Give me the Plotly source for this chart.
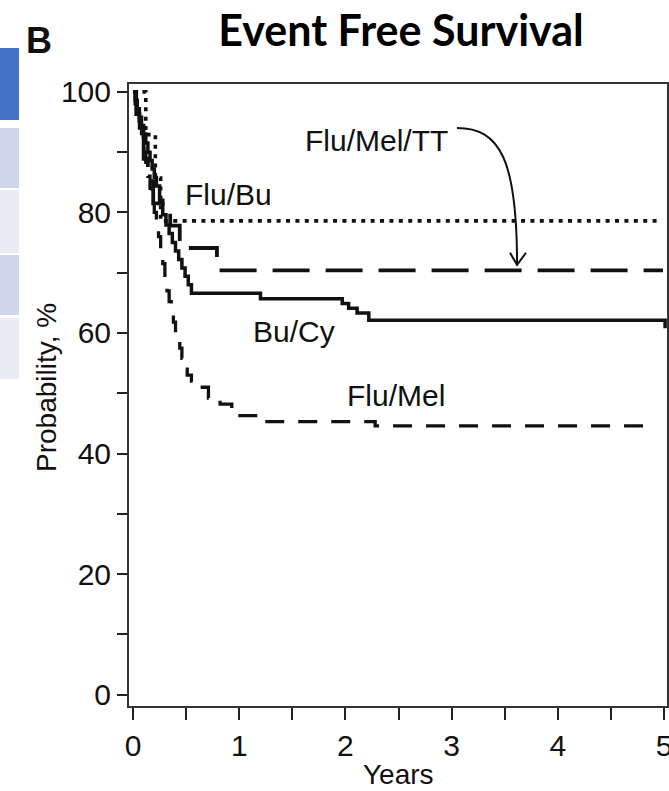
import plotly.graph_objects as go

# ---------------- data ----------------
years_flu_mel_tt = [0, 0.12, 0.21, 0.26, 4.96]
surv_flu_mel_tt = [100, 92.9, 85.7, 78.6, 78.6]

years_flu_bu = [0, 0.03, 0.06, 0.10, 0.14, 0.19, 0.35, 0.44, 0.79, 4.99]
surv_flu_bu = [100, 96.3, 92.6, 88.9, 85.2, 81.5, 77.8, 74.1, 70.4, 70.4]

years_bu_cy = [0, 0.02, 0.04, 0.06, 0.08, 0.10, 0.12, 0.14, 0.16, 0.18, 0.20,
               0.22, 0.25, 0.28, 0.31, 0.34, 0.37, 0.40, 0.43, 0.46, 0.49,
               0.52, 0.55, 1.20, 1.97, 2.03, 2.11, 2.22, 5.01]
surv_bu_cy = [100, 98.6, 97.2, 95.8, 94.4, 93.0, 91.5, 90.0, 88.6, 87.2, 85.8,
              84.4, 82.0, 79.6, 77.9, 76.5, 75.0, 73.6, 72.2, 70.8, 69.4,
              68.0, 66.6, 65.7, 64.9, 64.1, 63.3, 62.1, 60.8]

years_flu_mel = [0, 0.02, 0.04, 0.06, 0.08, 0.10, 0.12, 0.14, 0.16, 0.18, 0.20,
                 0.22, 0.24, 0.26, 0.28, 0.30, 0.32, 0.34, 0.36, 0.38, 0.40,
                 0.42, 0.44, 0.46, 0.48, 0.51, 0.55, 0.63, 0.71, 0.82, 0.93,
                 0.99, 1.21, 2.28, 4.87]
surv_flu_mel = [100, 98, 96, 94, 92, 90, 88, 86, 84, 82, 80,
                78, 76, 74, 71.5, 69, 67, 65.2, 63.5, 61.8, 60,
                58.7, 57.5, 55.8, 54, 53, 52, 51, 49.2, 48.2, 47.3,
                46.3, 45.3, 44.6, 44.6]

x_tick_vals = [0, 0.5, 1, 1.5, 2, 2.5, 3, 3.5, 4, 4.5, 5]
x_tick_text = ["0", "", "1", "", "2", "", "3", "", "4", "", "5"]
y_tick_vals = [0, 10, 20, 30, 40, 50, 60, 70, 80, 90, 100]
y_tick_text = ["0", "", "20", "", "40", "", "60", "", "80", "", "100"]

labels = ["Flu/Mel/TT", "Flu/Bu", "Bu/Cy", "Flu/Mel"]
label_x = [2.29, 0.90, 1.52, 2.48]
label_y = [92.0, 82.9, 60.3, 49.7]

# ---------------- figure ----------------
W, H = 669, 791
L, R, T, B = 129, 667, 84, 706
PW, PH = R - L, B - T


def pxx(x):
    return (x - L) / PW


def pxy(y):
    return (B - y) / PH


INK = "#111111"
FONT = "Liberation Sans, Arial, sans-serif"

fig = go.Figure()
fig.add_trace(go.Scatter(x=years_bu_cy, y=surv_bu_cy, mode="lines", line_shape="hv",
                         line=dict(color=INK, width=3.5), name="Bu/Cy"))
fig.add_trace(go.Scatter(x=years_flu_mel, y=surv_flu_mel, mode="lines", line_shape="hv",
                         line=dict(color=INK, width=3.3, dash="19px,14px"), name="Flu/Mel"))
fig.add_trace(go.Scatter(x=years_flu_bu, y=surv_flu_bu, mode="lines", line_shape="hv",
                         line=dict(color=INK, width=3.8, dash="37px,16px"), name="Flu/Bu"))
fig.add_trace(go.Scatter(x=years_flu_mel_tt, y=surv_flu_mel_tt, mode="lines", line_shape="hv",
                         line=dict(color=INK, width=3.6, dash="4px,5.4px"), name="Flu/Mel/TT"))

for t, x, y in zip(labels, label_x, label_y):
    fig.add_annotation(x=x, y=y, text=t, showarrow=False, xanchor="center", yanchor="middle",
                       font=dict(family=FONT, size=30, color=INK))

# curved arrow from the Flu/Mel/TT label down to the Flu/Bu curve
fig.add_shape(type="path", xref="x", yref="y",
              path="M 3.05,94.0 C 3.456,94.0 3.616,88.7 3.616,71.4",
              line=dict(color=INK, width=2))
fig.add_shape(type="path", xref="x", yref="y",
              path="M 3.55,73.3 L 3.616,71.3 L 3.70,73.3",
              line=dict(color=INK, width=2))

# panel letter
fig.add_annotation(xref="paper", yref="paper", x=pxx(39), y=pxy(41), text="<b>B</b>",
                   showarrow=False, xanchor="center", yanchor="middle",
                   font=dict(family=FONT, size=36, color=INK))

# axis titles
fig.add_annotation(xref="paper", yref="paper", x=pxx(398), y=pxy(774), text="Years",
                   showarrow=False, xanchor="center", yanchor="middle",
                   font=dict(family=FONT, size=28, color=INK))
fig.add_annotation(xref="paper", yref="paper", x=pxx(46), y=pxy(388), text="Probability, %",
                   showarrow=False, xanchor="center", yanchor="middle", textangle=-90,
                   font=dict(family=FONT, size=28, color=INK))

# left blue table fragments
rects = [(48, 120, "#4472C4"), (128, 188, "#CFD5EA"), (190, 253, "#E9EBF5"),
         (255, 315, "#CFD5EA"), (318, 379, "#E9EBF5")]
for y0, y1, c in rects:
    fig.add_shape(type="rect", xref="paper", yref="paper",
                  x0=pxx(0), x1=pxx(19), y0=pxy(y1), y1=pxy(y0),
                  line=dict(width=0), fillcolor=c, layer="below")

fig.update_layout(
    width=W, height=H,
    margin=dict(l=L, r=W - R, t=T, b=H - B, pad=0, autoexpand=False),
    paper_bgcolor="white", plot_bgcolor="white",
    showlegend=False,
    title=dict(text="Event Free Survival", x=401 / W, xref="container", xanchor="center",
               y=1 - 31 / H, yref="container", yanchor="middle", automargin=False,
               font=dict(family="Lato, sans-serif", size=43, color="black", weight="bold")),
)
fig.update_xaxes(range=[-0.038, 5.028], tickvals=x_tick_vals, ticktext=x_tick_text,
                 ticks="outside", ticklen=12, tickwidth=2, tickcolor="#222",
                 showline=True, linewidth=2, linecolor="#333", mirror=True,
                 showgrid=False, zeroline=False, automargin=False,
                 ticklabeloverflow="allow",
                 tickfont=dict(family=FONT, size=30, color=INK))
fig.update_yaxes(range=[-1.87, 101.3], tickvals=y_tick_vals, ticktext=y_tick_text,
                 ticks="outside", ticklen=10, tickwidth=2, tickcolor="#222",
                 showline=True, linewidth=2, linecolor="#333", mirror=True,
                 showgrid=False, zeroline=False, automargin=False,
                 ticklabeloverflow="allow",
                 tickfont=dict(family=FONT, size=30, color=INK))

fig.write_html(
    "out.html",
    config={"displayModeBar": False},
    post_script=(
        "document.body.style.margin='0';"
        "document.body.style.overflow='hidden';"
        "document.documentElement.style.overflow='hidden';"
    ),
)
